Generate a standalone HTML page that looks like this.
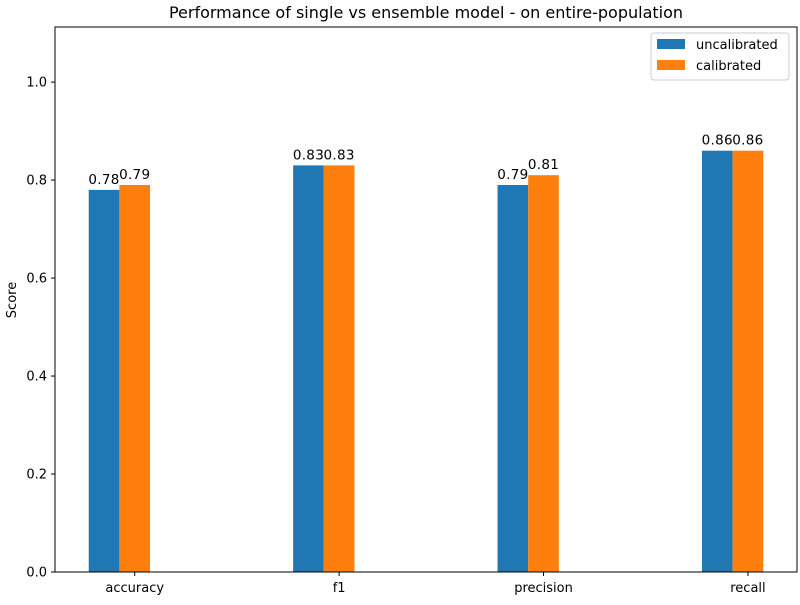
<!DOCTYPE html>
<html><head><meta charset="utf-8"><style>
body{margin:0;background:#fff;font-family:"Liberation Sans","DejaVu Sans",sans-serif;}
svg text{font-family:"DejaVu Sans","Liberation Sans",sans-serif;}
</style></head><body>
<svg id="chart" width="800" height="600" xmlns="http://www.w3.org/2000/svg"></svg>
<script>
const categories=["accuracy","f1","precision","recall"];
const uncalibrated=[0.78,0.83,0.79,0.86];
const calibrated=[0.79,0.83,0.81,0.86];
const yTicks=[0,0.2,0.4,0.6,0.8,1.0];
const yTickLabels=["0.0","0.2","0.4","0.6","0.8","1.0"];
const L=55,R=797,T=27,B=572,ymax=1.1125,xmin=-0.315,xmax=3.315,bw=0.15;
const sx=v=>L+(v-xmin)/(xmax-xmin)*(R-L);
const sy=v=>B-v/ymax*(B-T);
const svg=document.getElementById('chart');
const NS="http://www.w3.org/2000/svg";
function mk(tag,attrs,txt){const e=document.createElementNS(NS,tag);for(const k in attrs)e.setAttribute(k,attrs[k]);if(txt!==undefined)e.textContent=txt;svg.appendChild(e);return e;}
let e;
e=mk('text',{x:426,y:18,'text-anchor':'middle','font-size':16,fill:'#000'},'Performance of single vs ensemble model - on entire-population');


const series=[[uncalibrated,'#1f77b4',-1,'uncalibrated'],[calibrated,'#ff7f0e',0,'calibrated']];
series.forEach(([vals,col,off,nm])=>{
  vals.forEach((v,i)=>{
    const x0=sx(i+off*bw),x1=sx(i+(off+1)*bw);
    e=mk('rect',{x:x0,y:sy(v),width:x1-x0,height:B-sy(v),fill:col});
    
    
    e=mk('text',{x:(x0+x1)/2,y:sy(v)-6,'text-anchor':'middle','font-size':13.5,'letter-spacing':'0.3',fill:'#000'},String(v));
    
    
  });
});
e=mk('rect',{x:L,y:T,width:R-L,height:B-T,fill:'none',stroke:'#000','stroke-width':1});


yTicks.forEach((t,i)=>{
  const y=sy(t);
  e=mk('line',{x1:L-4,x2:L,y1:y,y2:y,stroke:'#000'});
  
  
  e=mk('text',{x:L-8,y:y+4.5,'text-anchor':'end','font-size':13,fill:'#000'},yTickLabels[i]);
  
  
});
categories.forEach((c,i)=>{
  const x=sx(i+bw/2);
  e=mk('line',{x1:x,x2:x,y1:B,y2:B+4,stroke:'#000'});
  
  
  e=mk('text',{x:x,y:B+20,'text-anchor':'middle','font-size':13,fill:'#000'},c);
  
  
});
e=mk('text',{x:16,y:300,'text-anchor':'middle','font-size':13,fill:'#000',transform:'rotate(-90 16 300)'},'Score');


e=mk('rect',{x:651,y:33,width:138,height:47,fill:'#fff',stroke:'#ccc',rx:3});


series.forEach(([v,col,off,nm],k)=>{
  e=mk('rect',{x:657,y:39+k*21,width:28,height:10,fill:col});
  
  
  e=mk('text',{x:696,y:49+k*21,'font-size':13,fill:'#000'},nm);
  
  
});
</script>
</body></html>
